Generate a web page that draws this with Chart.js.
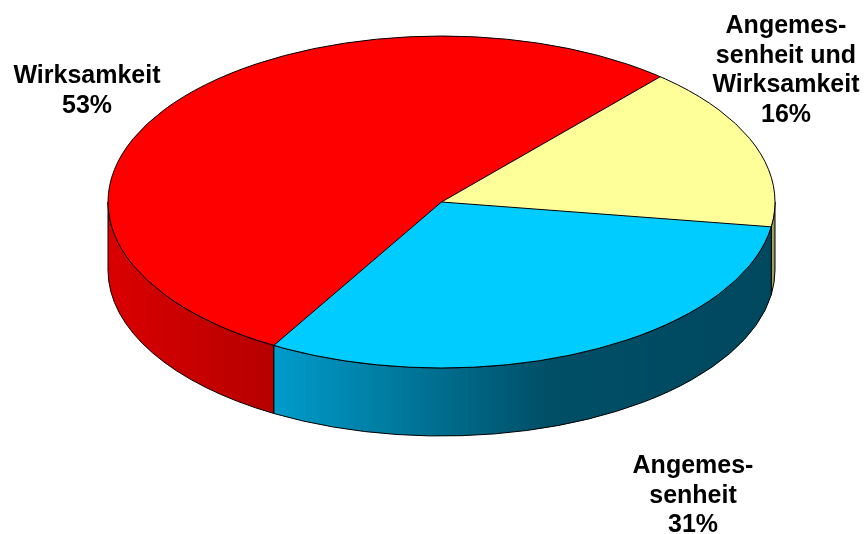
<!DOCTYPE html>
<html>
<head>
<meta charset="utf-8">
<script src="https://cdn.jsdelivr.net/npm/chart.js@4.4.1/dist/chart.umd.min.js"></script>
<style>
  html, body { margin: 0; padding: 0; background: #fff; }
  #wrap { width: 864px; height: 534px; position: relative; }
</style>
</head>
<body>
<div id="wrap"><canvas id="chart"></canvas></div>
<script>
// ─── Data ──────────────────────────────────────────────────────────────────────
const labels = ["Angemessenheit und Wirksamkeit", "Angemessenheit", "Wirksamkeit"];
const values = [16, 31, 53];
const labelLines = [
  ["Angemes-", "senheit und", "Wirksamkeit"],
  ["Angemes-", "senheit"],
  ["Wirksamkeit"]
];

// ─── Look ──────────────────────────────────────────────────────────────────────
const topColors = ["#ffff99", "#00ccff", "#ff0000"];
const wallStops = [
  [[0, "#b2b26c"], [1, "#8c8c4e"]],
  [[0, "#009ccb"], [0.55, "#004f67"], [1, "#00485e"]],
  [[0, "#da0000"], [1, "#b60000"]]
];
const labelAnchors = [{ x: 786, y: 33 }, { x: 693, y: 473 }, { x: 87, y: 83 }];
const LINE_H = 29.7;
const PIE = { cx: 441.5, cy: 202, rx: 333.5, ry: 166, depth: 68 };

function ellPoint(t, dy = 0) {
  return [PIE.cx + PIE.rx * Math.cos(t), PIE.cy + dy + PIE.ry * Math.sin(t)];
}

function drawWall(ctx, a, b, stops) {
  const xl = ellPoint(b)[0], xr = ellPoint(a)[0];
  const g = ctx.createLinearGradient(xl, 0, Math.max(xr, xl + 1), 0);
  stops.forEach(([o, c]) => g.addColorStop(o, c));
  ctx.beginPath();
  ctx.ellipse(PIE.cx, PIE.cy, PIE.rx, PIE.ry, 0, a, b);
  ctx.ellipse(PIE.cx, PIE.cy + PIE.depth, PIE.rx, PIE.ry, 0, b, a, true);
  ctx.closePath();
  ctx.fillStyle = g;
  ctx.fill();
  ctx.lineWidth = 1;
  ctx.strokeStyle = "#000";
  ctx.stroke();
}

// ─── 3D pie: walls under the flattened pie, outlines and labels on top ────────
const pie3d = {
  id: "pie3d",
  beforeDatasetsDraw(chart) {
    const ctx = chart.ctx;
    const arcs = chart.getDatasetMeta(0).data;
    // only the front half of the side is visible
    arcs.forEach((arc, i) => {
      [-2 * Math.PI, 0, 2 * Math.PI].forEach(shift => {
        const a = Math.max(arc.startAngle - shift, 0);
        const b = Math.min(arc.endAngle - shift, Math.PI);
        if (b > a) drawWall(ctx, a, b, wallStops[i]);
      });
    });
    // squash the round pie into the elliptic top face
    const { x, y, outerRadius: r } = arcs[0];
    ctx.save();
    ctx.translate(PIE.cx, PIE.cy);
    ctx.scale(PIE.rx / r, PIE.ry / r);
    ctx.translate(-x, -y);
  },
  afterDatasetsDraw(chart) {
    const ctx = chart.ctx;
    ctx.restore();
    const arcs = chart.getDatasetMeta(0).data;

    ctx.save();
    ctx.lineWidth = 1;
    ctx.strokeStyle = "#000";
    ctx.beginPath();
    ctx.ellipse(PIE.cx, PIE.cy, PIE.rx, PIE.ry, 0, 0, 2 * Math.PI);
    ctx.stroke();
    arcs.forEach(arc => {
      const [px, py] = ellPoint(arc.startAngle);
      ctx.beginPath();
      ctx.moveTo(PIE.cx, PIE.cy);
      ctx.lineTo(px, py);
      ctx.stroke();
    });

    ctx.font = "bold 25px 'Liberation Sans', Arial, sans-serif";
    ctx.textAlign = "center";
    ctx.textBaseline = "alphabetic";
    ctx.fillStyle = "#000";
    labelLines.forEach((lines, i) => {
      const all = lines.concat(values[i] + "%");
      all.forEach((t, k) => ctx.fillText(t, labelAnchors[i].x, labelAnchors[i].y + k * LINE_H));
    });
    ctx.restore();
  }
};

new Chart(document.getElementById("chart"), {
  type: "pie",
  data: {
    labels,
    datasets: [{
      data: values,
      backgroundColor: topColors,
      borderWidth: 0,
      clip: false
    }]
  },
  options: {
    responsive: true,
    maintainAspectRatio: false,
    animation: false,
    rotation: 41,
    layout: { padding: 0 },
    plugins: {
      legend: { display: false },
      tooltip: { enabled: false }
    }
  },
  plugins: [pie3d]
});
</script>
</body>
</html>
